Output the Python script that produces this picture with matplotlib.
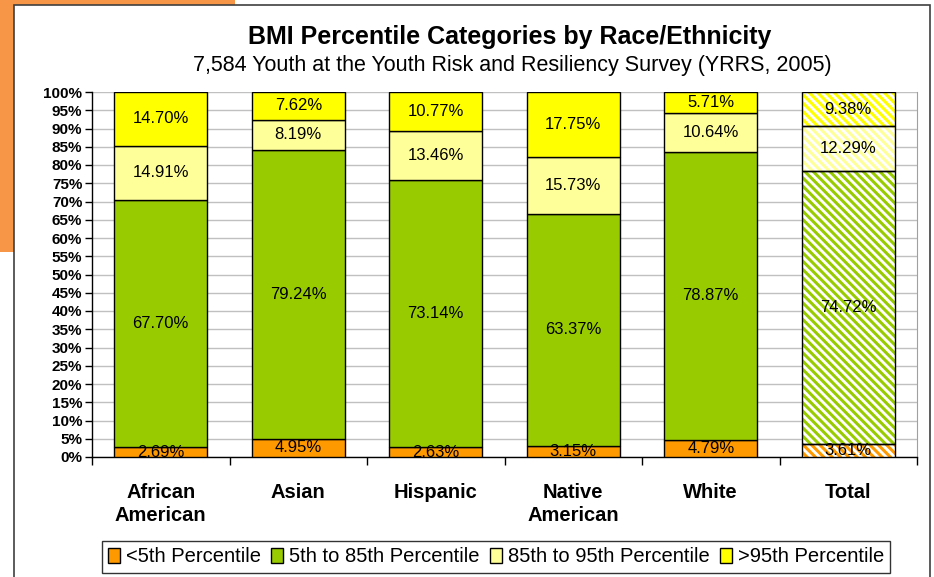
import numpy as np
import matplotlib
matplotlib.use('Agg')
import matplotlib.pyplot as plt
from matplotlib.patches import Rectangle

plt.rcParams['font.family'] = ['Liberation Sans', 'DejaVu Sans']
plt.rcParams['hatch.linewidth'] = 2.2

groups = ['African\nAmerican', 'Asian', 'Hispanic', 'Native\nAmerican', 'White', 'Total']
series = ['<5th Percentile', '5th to 85th Percentile', '85th to 95th Percentile', '>95th Percentile']
under5 = [2.69, 4.95, 2.63, 3.15, 4.79, 3.61]
mid = [67.70, 79.24, 73.14, 63.37, 78.87, 74.72]
upper = [14.91, 8.19, 13.46, 15.73, 10.64, 12.29]
over95 = [14.70, 7.62, 10.77, 17.75, 5.71, 9.38]
colors = ['#FF9900', '#99CC00', '#FFFF99', '#FFFF00']
yticks = list(range(0, 101, 5))

W, H = 934, 577
fig = plt.figure(figsize=(W / 100, H / 100), dpi=100)

# background screenshot bits
fig.patches.append(Rectangle((0, 1 - 252 / H), 14 / W, 252 / H, transform=fig.transFigure,
                             facecolor='#F79646', edgecolor='none', zorder=0))
fig.patches.append(Rectangle((0, 1 - 5 / H), 235 / W, 5 / H, transform=fig.transFigure,
                             facecolor='#F79646', edgecolor='none', zorder=0))
fig.patches.append(Rectangle((14 / W, -0.1), (930 - 14) / W, 1.1 - 5 / H, transform=fig.transFigure,
                             facecolor='white', edgecolor='#404040', linewidth=1.2, zorder=1))

ax = fig.add_axes([92 / W, (H - 457) / H, (917 - 92) / W, (457 - 92) / H])
ax.set_zorder(2)

x = np.arange(len(groups))
bw = 0.675
data = [under5, mid, upper, over95]
bottom = np.zeros(len(groups))
for vals, col in zip(data, colors):
    vals = np.array(vals)
    for i in range(len(groups)):
        if i == len(groups) - 1:
            ax.bar(x[i], vals[i], bw, bottom=bottom[i], color='white', edgecolor=col,
                   hatch='\\\\\\\\', linewidth=0, zorder=3)
            ax.bar(x[i], vals[i], bw, bottom=bottom[i], fill=False, edgecolor='black',
                   linewidth=1, zorder=4)
        else:
            ax.bar(x[i], vals[i], bw, bottom=bottom[i], color=col, edgecolor='black',
                   linewidth=1, zorder=3)
        ax.text(x[i], bottom[i] + vals[i] / 2, f'{vals[i]:.2f}%', ha='center', va='center',
                fontsize=12, zorder=5)
    bottom += vals

ax.set_xlim(-0.5, len(groups) - 0.5)
ax.set_ylim(0, 100)
ax.set_yticks(yticks)
ax.set_yticklabels([f'{t}%' for t in yticks], fontweight='bold', fontsize=11)
ax.yaxis.grid(True, color='#C0C0C0', linewidth=1, zorder=0)
ax.set_axisbelow(True)
ax.tick_params(axis='y', length=5, width=1, direction='out', pad=2)

ax.set_xticks(x)
ax.set_xticklabels(groups, fontweight='bold', fontsize=14.5, linespacing=1.25)
ax.tick_params(axis='x', length=0, pad=19)
ax.set_xticks(np.arange(-0.5, len(groups)), minor=True)
ax.tick_params(axis='x', which='minor', length=6, width=1, direction='out')

ax.spines['top'].set_visible(False)
ax.spines['right'].set_color('#A0A0A0')
ax.spines['left'].set_linewidth(1)
ax.spines['bottom'].set_linewidth(1)

handles = [Rectangle((0, 0), 1, 1, facecolor=c, edgecolor='black', linewidth=1) for c in colors]
leg = fig.legend(handles, series, loc='center', bbox_to_anchor=(496 / W, 1 - 557 / H), ncol=4,
                 frameon=True, fancybox=False, edgecolor='black', fontsize=14.5,
                 handlelength=0.6, handleheight=0.8, handletextpad=0.3, columnspacing=0.5,
                 borderpad=0.3)
leg.get_frame().set_linewidth(1)

fig.text(510 / W, 1 - 37 / H, 'BMI Percentile Categories by Race/Ethnicity', ha='center', va='center',
         fontsize=18, fontweight='bold')
fig.text(512 / W, 1 - 66 / H, '7,584 Youth at the Youth Risk and Resiliency Survey (YRRS, 2005)',
         ha='center', va='center', fontsize=15.5)

plt.savefig('out.png', dpi=100)
plt.close(fig)
